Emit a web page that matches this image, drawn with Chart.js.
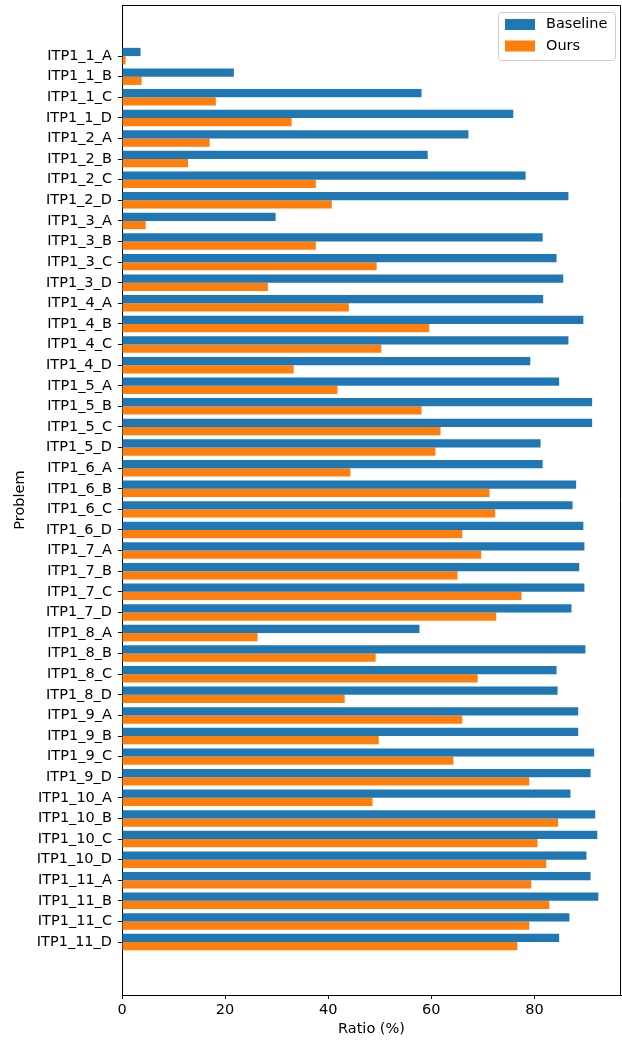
<!DOCTYPE html>
<html>
<head>
<meta charset="utf-8">
<script src="https://cdn.jsdelivr.net/npm/chart.js@4/dist/chart.umd.min.js"></script>
<style>
  html, body { margin: 0; padding: 0; background: #fff; }
  #wrap { width: 622px; height: 1040px; }
</style>
</head>
<body>
<div id="wrap"><canvas id="ratioChart"></canvas></div>
<script>
const problems = [
    'ITP1_1_A', 'ITP1_1_B', 'ITP1_1_C', 'ITP1_1_D',
    'ITP1_2_A', 'ITP1_2_B', 'ITP1_2_C', 'ITP1_2_D',
    'ITP1_3_A', 'ITP1_3_B', 'ITP1_3_C', 'ITP1_3_D',
    'ITP1_4_A', 'ITP1_4_B', 'ITP1_4_C', 'ITP1_4_D',
    'ITP1_5_A', 'ITP1_5_B', 'ITP1_5_C', 'ITP1_5_D',
    'ITP1_6_A', 'ITP1_6_B', 'ITP1_6_C', 'ITP1_6_D',
    'ITP1_7_A', 'ITP1_7_B', 'ITP1_7_C', 'ITP1_7_D',
    'ITP1_8_A', 'ITP1_8_B', 'ITP1_8_C', 'ITP1_8_D',
    'ITP1_9_A', 'ITP1_9_B', 'ITP1_9_C', 'ITP1_9_D',
    'ITP1_10_A', 'ITP1_10_B', 'ITP1_10_C', 'ITP1_10_D',
    'ITP1_11_A', 'ITP1_11_B', 'ITP1_11_C', 'ITP1_11_D'
];

const baseline = [
    3.6, 21.7, 58.1, 75.9,
    67.2, 59.3, 78.3, 86.6,
    29.8, 81.6, 84.3, 85.6,
    81.7, 89.5, 86.6, 79.2,
    84.8, 91.2, 91.2, 81.2,
    81.6, 88.1, 87.4, 89.5,
    89.7, 88.7, 89.7, 87.2,
    57.7, 89.9, 84.3, 84.5,
    88.5, 88.5, 91.6, 90.9,
    87.0, 91.8, 92.2, 90.1,
    90.9, 92.4, 86.8, 84.8
];

const ours = [
    0.7, 3.8, 18.2, 32.9,
    17.0, 12.8, 37.6, 40.7,
    4.6, 37.6, 49.4, 28.3,
    44.0, 59.6, 50.3, 33.3,
    41.8, 58.1, 61.8, 60.8,
    44.3, 71.3, 72.4, 66.0,
    69.7, 65.1, 77.5, 72.6,
    26.3, 49.2, 69.0, 43.2,
    66.0, 49.8, 64.3, 79.0,
    48.6, 84.6, 80.6, 82.3,
    79.4, 82.9, 79.0, 76.7
];

const xTicks = [0, 20, 40, 60, 80];

const FONT = { family: 'DejaVu Sans', size: 14.5 };

// matplotlib draws all four spines and a framed legend inside the axes
const frameAndLegend = {
    id: 'frameAndLegend',
    afterDraw(chart) {
        const ctx = chart.ctx;
        const a = chart.chartArea;
        ctx.save();
        ctx.strokeStyle = '#000';
        ctx.lineWidth = 1;
        ctx.beginPath();
        ctx.moveTo(a.left, a.top + 0.5);
        ctx.lineTo(a.right - 0.5, a.top + 0.5);
        ctx.lineTo(a.right - 0.5, a.bottom);
        ctx.stroke();

        const boxW = 117, boxH = 48;
        const bx = a.right - 6 - boxW;
        const by = a.top + 7;
        ctx.fillStyle = 'rgba(255,255,255,0.8)';
        ctx.strokeStyle = '#cccccc';
        ctx.beginPath();
        ctx.roundRect(bx + 0.5, by + 0.5, boxW, boxH, 3);
        ctx.fill();
        ctx.stroke();

        ctx.font = '14.5px "DejaVu Sans"';
        ctx.textBaseline = 'middle';
        chart.data.datasets.forEach((ds, i) => {
            const py = by + 7 + i * 21.5;
            ctx.fillStyle = ds.backgroundColor;
            ctx.fillRect(bx + 7, py, 30, 11);
            ctx.fillStyle = '#000';
            ctx.fillText(ds.label, bx + 48, py + 5.5);
        });
        ctx.restore();
    }
};

new Chart(document.getElementById('ratioChart'), {
    type: 'bar',
    data: {
        datasets: [{
            label: 'Baseline',
            data: baseline.map((v, i) => ({ x: v, y: i })),
            backgroundColor: '#1f77b4',
            categoryPercentage: 0.8,
            barPercentage: 1.0
        }, {
            label: 'Ours',
            data: ours.map((v, i) => ({ x: v, y: i })),
            backgroundColor: '#ff7f0e',
            categoryPercentage: 0.8,
            barPercentage: 1.0
        }]
    },
    options: {
        indexAxis: 'y',
        responsive: true,
        maintainAspectRatio: false,
        animation: false,
        layout: {
            padding: { left: 0, right: 1, top: 5, bottom: 0 }
        },
        plugins: {
            legend: { display: false },
            tooltip: { enabled: false }
        },
        scales: {
            x: {
                type: 'linear',
                min: 0,
                max: 96.8,
                grid: { drawOnChartArea: false, drawTicks: true, tickLength: 4, color: '#000' },
                border: { color: '#000', width: 1 },
                afterBuildTicks: (scale) => {
                    scale.ticks = xTicks.map(v => ({ value: v }));
                },
                afterFit: (scale) => {
                    scale.height = 45;
                    scale.paddingLeft = 0;
                    scale.paddingRight = 0;
                },
                ticks: { color: '#000', font: FONT, padding: 3, maxRotation: 0 },
                title: {
                    display: true,
                    text: 'Ratio (%)',
                    color: '#000',
                    font: FONT,
                    padding: { top: 0, bottom: 2 }
                }
            },
            y: {
                type: 'linear',
                reverse: true,
                offset: false,
                min: -2.48,
                max: 45.57,
                grid: { offset: false, drawOnChartArea: false, drawTicks: true, tickLength: 4, color: '#000' },
                border: { color: '#000', width: 1 },
                afterBuildTicks: (scale) => {
                    scale.ticks = problems.map((p, i) => ({ value: i }));
                },
                afterFit: (scale) => {
                    scale.width = 122;
                    scale.paddingTop = 0;
                    scale.paddingBottom = 0;
                },
                ticks: {
                    color: '#000',
                    font: FONT,
                    padding: 6,
                    autoSkip: false,
                    callback: (v) => problems[v]
                },
                title: {
                    display: true,
                    text: 'Problem',
                    color: '#000',
                    font: FONT,
                    padding: { top: 12, bottom: 0 }
                }
            }
        }
    },
    plugins: [frameAndLegend]
});
</script>
</body>
</html>
